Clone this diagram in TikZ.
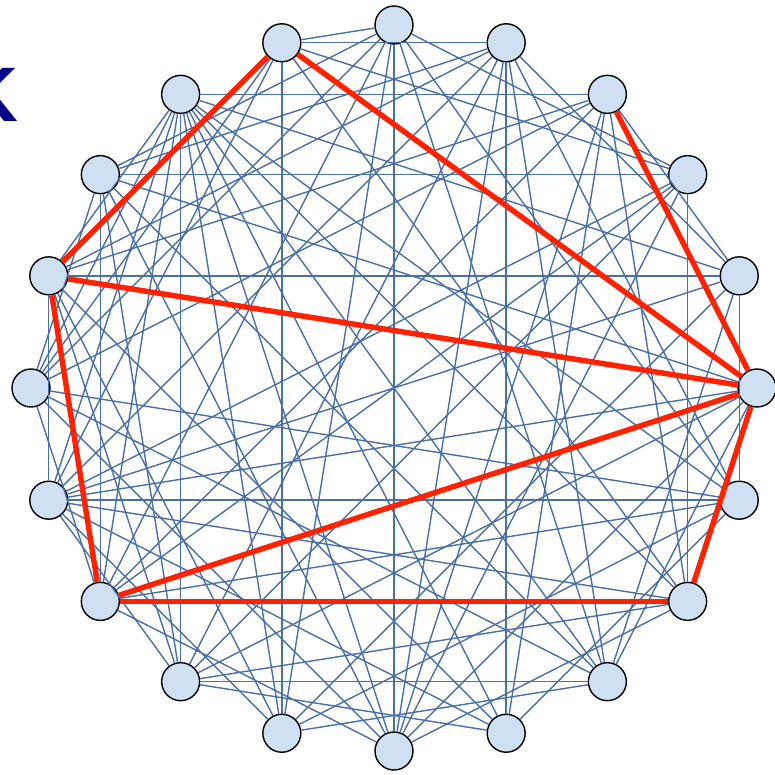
\documentclass[tikz,border=0pt]{standalone}
\usepackage{fontspec}
\setmainfont{Liberation Sans}
\usepackage{xcolor}
\usepackage{tikz}
\definecolor{nodefill}{HTML}{CFE0F2}
\definecolor{linkblue}{HTML}{4A6FA5}
\definecolor{hotred}{HTML}{FF2200}
\definecolor{navy}{HTML}{00008B}

\begin{document}
\begin{tikzpicture}[x=0.02cm, y=-0.02cm,
  vtx/.style={circle, draw=black, line width=0.8pt, fill=nodefill, minimum size=0.76cm, inner sep=0pt},
  link/.style={draw=linkblue, line width=0.8pt},
  hit/.style={draw=hotred, line width=3.1pt}]
  \useasboundingbox (0,0) rectangle (775,775);
  \node[anchor=base east, inner sep=0pt, text=navy, font=\bfseries\fontsize{44}{48}\selectfont] (lbl) at (19,121) {K};
  % vertices on the circle
  \foreach \k in {0,...,19}
    \node[vtx] (v\k) at ([shift={(394,388)}]{18*\k-90}:363) {};
  % blue edges
  \foreach \a/\b in {0/3,0/6,0/8,0/10,0/11,0/13,0/15,0/17,0/19,
      1/4,1/6,1/8,1/9,1/10,1/12,1/14,1/16,1/17,1/19,
      2/4,2/7,2/9,2/10,2/13,2/15,2/16,2/18,
      3/7,3/10,3/12,3/13,3/14,3/17,3/19,
      4/6,4/8,4/11,4/14,4/16,4/18,
      5/8,5/10,5/12,5/14,5/17,
      6/9,6/11,6/13,6/14,6/15,6/18,
      7/10,7/12,7/14,7/18,7/19,
      8/11,8/12,8/15,8/17,8/18,
      9/12,9/14,9/16,9/18,
      10/13,10/15,10/17,10/18,
      11/14,11/16,11/18,11/19,
      12/14,12/16,12/17,12/18,
      13/15,13/17,13/18,
      14/16,14/18,14/19,
      15/17,15/18,15/19,
      16/18}
    \draw[link] (v\a) -- (v\b);
  % red edges
  \foreach \a/\b in {2/5,19/16,19/5,16/5,16/13,13/5,13/7,7/5}
    \draw[hit] (v\a) -- (v\b);
\end{tikzpicture}
\end{document}
